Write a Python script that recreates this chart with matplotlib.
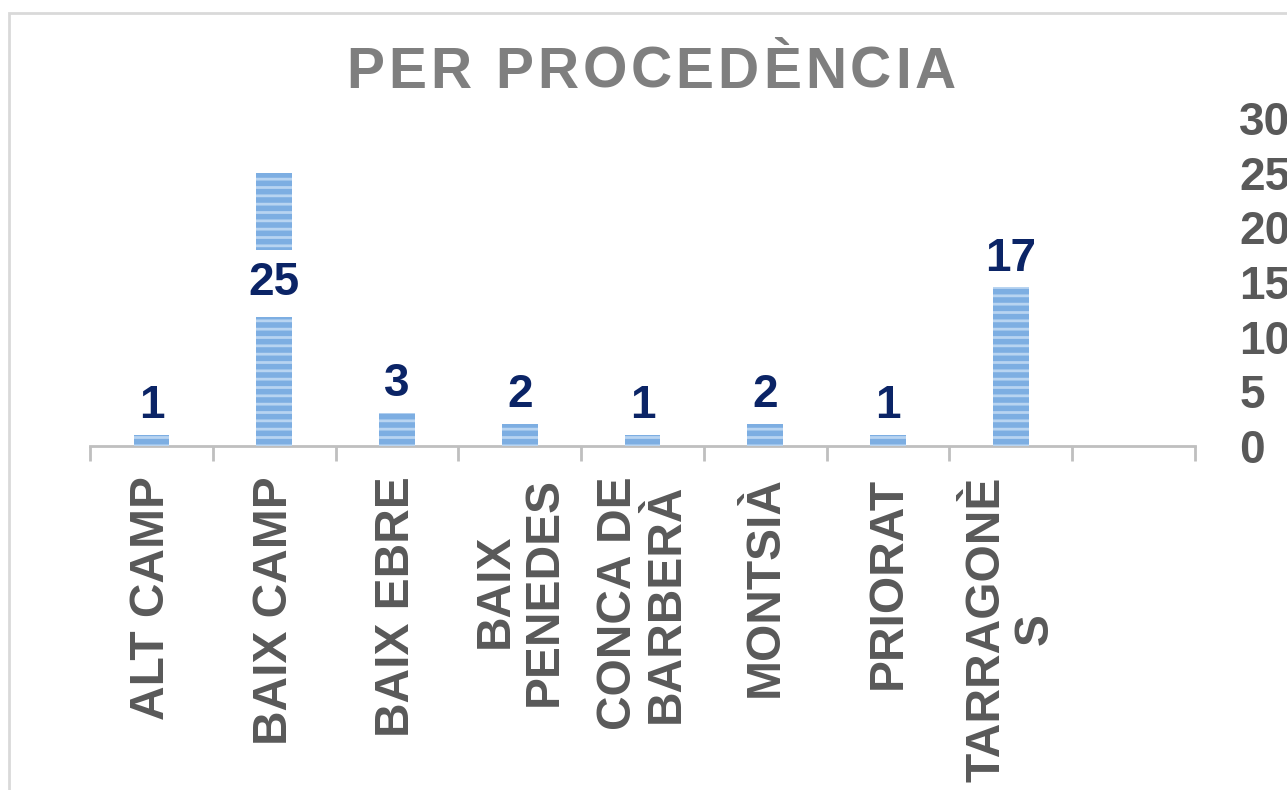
import matplotlib
matplotlib.use("Agg")
import matplotlib.pyplot as plt

plt.rcParams['font.family'] = ['Liberation Sans', 'DejaVu Sans']
plt.rcParams['hatch.linewidth'] = 2.0

# data
categories = ["ALT CAMP", "BAIX CAMP", "BAIX EBRE", "BAIX\nPENEDES", "CONCA DE\nBARBERÀ",
              "MONTSIÀ", "PRIORAT", "TARRAGONÈ\nS"]
bar_heights = [1, 25, 3, 2, 1, 2, 1, 14.5]   # as drawn
label_values = [1, 25, 3, 2, 1, 2, 1, 17]    # as labelled
n_slots = 9
y_ticks = [0, 5, 10, 15, 20, 25, 30]
title = "PER PROCEDÈNCIA"

fig = plt.figure(figsize=(12.87, 7.90), dpi=100)
ax = fig.add_axes([90 / 1287, 1 - 446 / 790, 1105 / 1287, (446 - 118) / 790])

# chart frame
fig.patches.append(plt.Rectangle((9 / 1287, -0.1), 1.2, 1 - 13 / 790 + 0.1,
                                 transform=fig.transFigure, fill=False,
                                 edgecolor='#d9d9d9', linewidth=2))

x = list(range(len(categories)))
ax.bar(x, bar_heights, width=0.29, color='#7daee2', edgecolor='#b8d4f1',
       hatch='--', linewidth=0, zorder=2)

for xi, h, v in zip(x, bar_heights, label_values):
    if h > 20:
        ax.text(xi, h * 0.595, str(v), ha='center', va='center', fontsize=33,
                fontweight='bold', color='#0b2466', zorder=3,
                bbox=dict(boxstyle='square,pad=0.25', facecolor='white', edgecolor='none'))
    else:
        ax.annotate(str(v), (xi, h), xytext=(0, 5), textcoords='offset points',
                    ha='center', va='bottom', fontsize=33, fontweight='bold',
                    color='#0b2466', zorder=3)

ax.set_xlim(-0.5, n_slots - 0.5)
ax.set_ylim(0, 30)

ax.set_xticks(x)
ax.set_xticklabels(categories, rotation=90, fontsize=34.5, fontweight='bold',
                   color='#595959', va='top', ha='center')
for lbl in ax.get_xticklabels():
    lbl.set_multialignment('center')
    lbl.set_linespacing(1.1)
ax.tick_params(axis='x', which='major', length=0, pad=22)
ax.set_xticks([i - 0.5 for i in range(n_slots + 1)], minor=True)
ax.tick_params(axis='x', which='minor', length=11, width=2, color='#bfbfbf')

ax.yaxis.tick_right()
ax.set_yticks(y_ticks)
ax.set_yticklabels([str(t) for t in y_ticks], fontsize=33, fontweight='bold', color='#595959')
ax.tick_params(axis='y', length=0, pad=32)

for s in ['top', 'left', 'right']:
    ax.spines[s].set_visible(False)
ax.spines['bottom'].set_color('#bfbfbf')
ax.spines['bottom'].set_linewidth(2)
ax.spines['bottom'].set_zorder(1)

# title with letter spacing: place each character in turn
renderer = fig.canvas.get_renderer()
spacing = 4.0  # px between letters
pieces = []
total = 0
for ch in title:
    t = fig.text(0, 1 - 88 / 790, ch, ha='left', va='baseline', fontsize=41,
                 fontweight='bold', color='#7f7f7f')
    w = t.get_window_extent(renderer).width if ch != ' ' else 41 * 100 / 72 * 0.278
    pieces.append((t, w))
    total += w + spacing
total -= spacing
x0 = 651 - total / 2
for t, w in pieces:
    t.set_x(x0 / 1287)
    x0 += w + spacing

fig.savefig("out.png", dpi=100)
